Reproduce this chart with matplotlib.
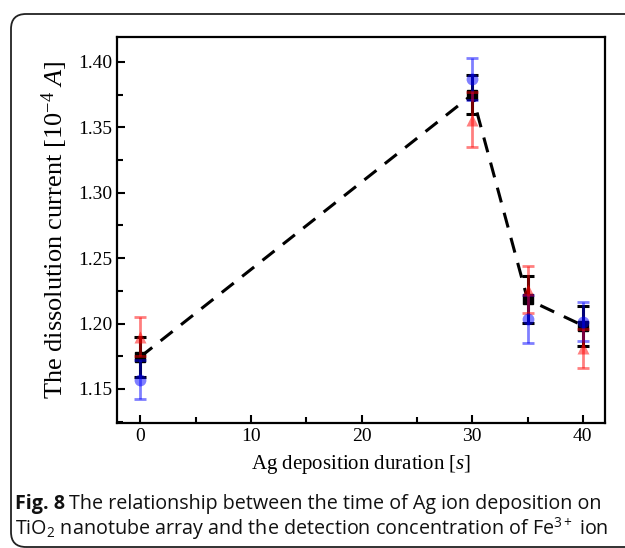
import matplotlib
matplotlib.use("Agg")
import matplotlib.pyplot as plt
from matplotlib.patches import FancyBboxPatch
from matplotlib.ticker import MultipleLocator

plt.rcParams['font.family'] = ['Liberation Serif', 'DejaVu Serif']
plt.rcParams['mathtext.fontset'] = 'custom'
plt.rcParams['mathtext.rm'] = 'Liberation Serif'
plt.rcParams['mathtext.it'] = 'Liberation Serif:italic'
plt.rcParams['mathtext.sf'] = 'Open Sans'

# Data
durations = [0, 30, 35, 40]
blue_vals = [1.157, 1.387, 1.2035, 1.2015]
blue_err = [0.015, 0.016, 0.0185, 0.015]
red_vals = [1.190, 1.356, 1.226, 1.181]
red_err = [0.015, 0.021, 0.0178, 0.015]
mean_vals = [1.1745, 1.375, 1.2185, 1.1985]
mean_err = [0.015, 0.015, 0.018, 0.0153]

xticks = [0, 10, 20, 30, 40]
yticks = [1.15, 1.20, 1.25, 1.30, 1.35, 1.40]

fig = plt.figure(figsize=(6.25, 5.48), dpi=100)
ax = fig.add_axes([117/625, 1-423/548, (605-117)/625, (423-36.7)/548])

# mean line and error bars (black)
ax.plot(durations, mean_vals, linestyle=(0, (5, 3.5)), color='black', lw=2.2, zorder=2)
ax.errorbar(durations, mean_vals, yerr=mean_err, fmt='s', color='black', ms=6.5,
            ecolor='black', elinewidth=2.2, capsize=4.5, capthick=2.2, zorder=3)

# blue series
ax.errorbar(durations, blue_vals, yerr=blue_err, fmt='o', color='blue', ms=8.5,
            mec='none', ecolor='blue', elinewidth=2, capsize=4, capthick=2,
            alpha=0.5, zorder=4)
# red series
ax.errorbar(durations, red_vals, yerr=red_err, fmt='^', color='red', ms=9,
            mec='none', ecolor='red', elinewidth=2, capsize=4, capthick=2,
            alpha=0.5, zorder=4)

ax.set_xlim(-2.1, 42.0)
ax.set_ylim(1.124, 1.4193)
ax.set_xticks(xticks)
ax.set_yticks(yticks)
ax.set_yticklabels([f"{v:.2f}" for v in yticks])
ax.xaxis.set_minor_locator(MultipleLocator(5))
ax.yaxis.set_minor_locator(MultipleLocator(0.025))
ax.tick_params(which='both', direction='in', top=False, right=False, labelsize=14, width=1.5)
ax.tick_params(which='major', length=6)
ax.tick_params(which='minor', length=4)
for s in ax.spines.values():
    s.set_linewidth(1.6)

ax.set_xlabel("Ag deposition duration [$s$]", fontsize=15, labelpad=6)
ax.set_ylabel("The dissolution current [10$^{-4}$ $A$]", fontsize=19, labelpad=6)

# figure frame
box = FancyBboxPatch((0.11, 0.01), 6.5, 5.33, boxstyle="round,pad=0,rounding_size=0.15",
                     transform=fig.dpi_scale_trans, fill=False, edgecolor='#222222', lw=1.3)
fig.patches.append(box)

# caption
cap_fam = ['Open Sans', 'DejaVu Sans']
cs = 14.2
t1 = fig.text(15/625, 1-509/548, "Fig. 8", fontsize=cs, fontweight='bold', family=cap_fam,
              va='baseline', ha='left', color='#111111')
fig.canvas.draw()
bb = t1.get_window_extent()
fig.text((bb.x1 + 4)/625, 1-509/548, "The relationship between the time of Ag ion deposition on",
         fontsize=cs, family=cap_fam, va='baseline', ha='left', color='#111111')
fig.text(15/625, 1-535/548, r"TiO$_\mathsf{2}$ nanotube array and the detection concentration of Fe$^\mathsf{3+}$ ion",
         fontsize=cs, family=cap_fam, va='baseline', ha='left', color='#111111')

fig.savefig("out.png", dpi=100)
